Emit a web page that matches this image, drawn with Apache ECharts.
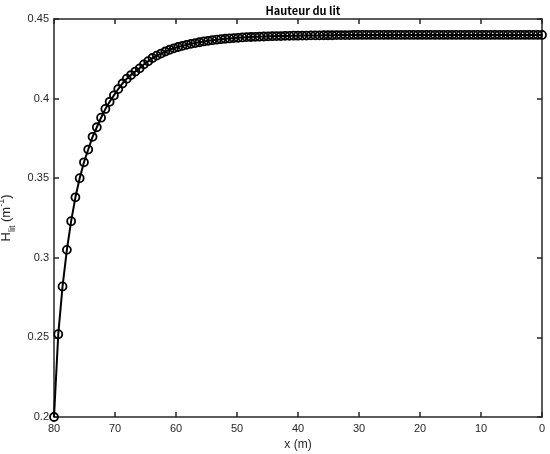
<!DOCTYPE html>
<html>
<head>
<meta charset="utf-8">
<script src="https://cdn.jsdelivr.net/npm/echarts@6/dist/echarts.min.js"></script>
<style>
  html, body { margin: 0; padding: 0; background: #fff; }
  #chart { width: 550px; height: 454px; }
</style>
</head>
<body>
<div id="chart"></div>
<script>
// x positions (m), from 80 down to 0
const xValues = [
  80, 79.30, 78.60, 77.89, 77.19, 76.49, 75.79, 75.09, 74.39, 73.68,
  72.98, 72.28, 71.58, 70.88, 70.18, 69.47, 68.77, 68.07, 67.37, 66.67,
  65.96, 65.26, 64.56, 63.86, 63.16, 62.46, 61.75, 61.05, 60.35, 59.65,
  58.95, 58.25, 57.54, 56.84, 56.14, 55.44, 54.74, 54.04, 53.33, 52.63,
  51.93, 51.23, 50.53, 49.82, 49.12, 48.42, 47.72, 47.02, 46.32, 45.61,
  44.91, 44.21, 43.51, 42.81, 42.11, 41.40, 40.70, 40.00, 39.30, 38.60,
  37.89, 37.19, 36.49, 35.79, 35.09, 34.39, 33.68, 32.98, 32.28, 31.58,
  30.88, 30.18, 29.47, 28.77, 28.07, 27.37, 26.67, 25.96, 25.26, 24.56,
  23.86, 23.16, 22.46, 21.75, 21.05, 20.35, 19.65, 18.95, 18.25, 17.54,
  16.84, 16.14, 15.44, 14.74, 14.04, 13.33, 12.63, 11.93, 11.23, 10.53,
  9.82, 9.12, 8.42, 7.72, 7.02, 6.32, 5.61, 4.91, 4.21, 3.51,
  2.81, 2.11, 1.40, 0.70, 0
];

// bed height H_lit (m^-1)
const hLit = [
  0.200, 0.252, 0.282, 0.305, 0.323, 0.338, 0.350, 0.360, 0.368, 0.376,
  0.382, 0.388, 0.3935, 0.398, 0.402, 0.406, 0.4095, 0.4125, 0.4148, 0.417,
  0.419, 0.4215, 0.4235, 0.4255, 0.427, 0.4283, 0.4296, 0.4307, 0.4316, 0.4324,
  0.4331, 0.4338, 0.4344, 0.4349, 0.4354, 0.4359, 0.4363, 0.4367, 0.437, 0.4373,
  0.4376, 0.4378, 0.4380, 0.4382, 0.4384, 0.4386, 0.4387, 0.4388, 0.4389, 0.439,
  0.4391, 0.4392, 0.4393, 0.4393, 0.4394, 0.4394, 0.4395, 0.4395, 0.4396, 0.4396,
  0.4397, 0.4397, 0.4397, 0.4398, 0.4398, 0.4398, 0.4399, 0.4399, 0.4399, 0.4399,
  0.44, 0.44, 0.44, 0.44, 0.44, 0.44, 0.44, 0.44, 0.44, 0.44,
  0.44, 0.44, 0.44, 0.44, 0.44, 0.44, 0.44, 0.44, 0.44, 0.44,
  0.44, 0.44, 0.44, 0.44, 0.44, 0.44, 0.44, 0.44, 0.44, 0.44,
  0.44, 0.44, 0.44, 0.44, 0.44, 0.44, 0.44, 0.44, 0.44, 0.44,
  0.44, 0.44, 0.44, 0.44, 0.44
];

const xTicks = [80, 70, 60, 50, 40, 30, 20, 10, 0];
const yTicks = ['0.2', '0.25', '0.3', '0.35', '0.4', '0.45'];

const chart = echarts.init(document.getElementById('chart'), null, { renderer: 'canvas' });

const axisColor = '#262626';
const labelFont = 'Liberation Sans';

const boxAxis = {
  axisLine: { show: true, onZero: false, lineStyle: { color: axisColor, width: 1.5 } },
  axisTick: { show: true, inside: true, length: 5, lineStyle: { color: axisColor, width: 1.5 } },
  splitLine: { show: false }
};

const option = {
  backgroundColor: '#fff',
  animation: false,
  title: {
    text: 'Hauteur du lit',
    left: 298,
    textAlign: 'center',
    top: 0,
    textStyle: {
      fontFamily: 'Noto Sans CJK SC',
      fontSize: 11,
      fontWeight: 'bold',
      color: '#000'
    }
  },
  grid: { left: 54, right: 8, top: 19, bottom: 37, containLabel: false, outerBoundsMode: 'none' },
  xAxis: [
    Object.assign({
      type: 'value',
      min: 0,
      max: 80,
      interval: 10,
      inverse: true,
      position: 'bottom',
      name: 'x (m)',
      nameLocation: 'middle',
      nameGap: 20,
      nameTextStyle: { fontFamily: labelFont, fontSize: 12, color: axisColor },
      axisLabel: {
        fontFamily: labelFont, fontSize: 11, color: axisColor, margin: 6,
        formatter: v => xTicks.includes(v) ? String(v) : ''
      }
    }, boxAxis),
    Object.assign({
      type: 'value',
      min: 0,
      max: 80,
      interval: 10,
      inverse: true,
      position: 'top',
      axisLabel: { show: false }
    }, boxAxis)
  ],
  yAxis: [
    Object.assign({
      type: 'value',
      min: 0.2,
      max: 0.45,
      interval: 0.05,
      position: 'left',
      name: '{a|H}{sub|lit}{a| (m}{sup|-1}{a|)}',
      nameLocation: 'middle',
      nameRotate: 90,
      nameGap: 34,
      nameTextStyle: {
        color: axisColor,
        rich: {
          a: { fontFamily: labelFont, fontSize: 13, color: axisColor, lineHeight: 20, verticalAlign: 'middle' },
          sub: { fontFamily: labelFont, fontSize: 9, color: axisColor, lineHeight: 20, verticalAlign: 'bottom' },
          sup: { fontFamily: labelFont, fontSize: 9, color: axisColor, lineHeight: 20, verticalAlign: 'top' }
        }
      },
      axisLabel: {
        fontFamily: labelFont, fontSize: 11, color: axisColor, margin: 5,
        formatter: v => {
          const s = String(Math.round(v * 100) / 100);
          return yTicks.includes(s) ? s : '';
        }
      }
    }, boxAxis),
    Object.assign({
      type: 'value',
      min: 0.2,
      max: 0.45,
      interval: 0.05,
      position: 'right',
      axisLabel: { show: false }
    }, boxAxis)
  ],
  series: [
    {
      type: 'line',
      xAxisIndex: 0,
      yAxisIndex: 0,
      data: xValues.map((x, i) => [x, hLit[i]]),
      symbol: 'circle',
      symbolSize: 8,
      clip: false,
      lineStyle: { color: '#000', width: 2 },
      itemStyle: { color: 'rgba(0,0,0,0)', borderColor: '#000', borderWidth: 1.8 }
    }
  ]
};

chart.setOption(option);
</script>
</body>
</html>
